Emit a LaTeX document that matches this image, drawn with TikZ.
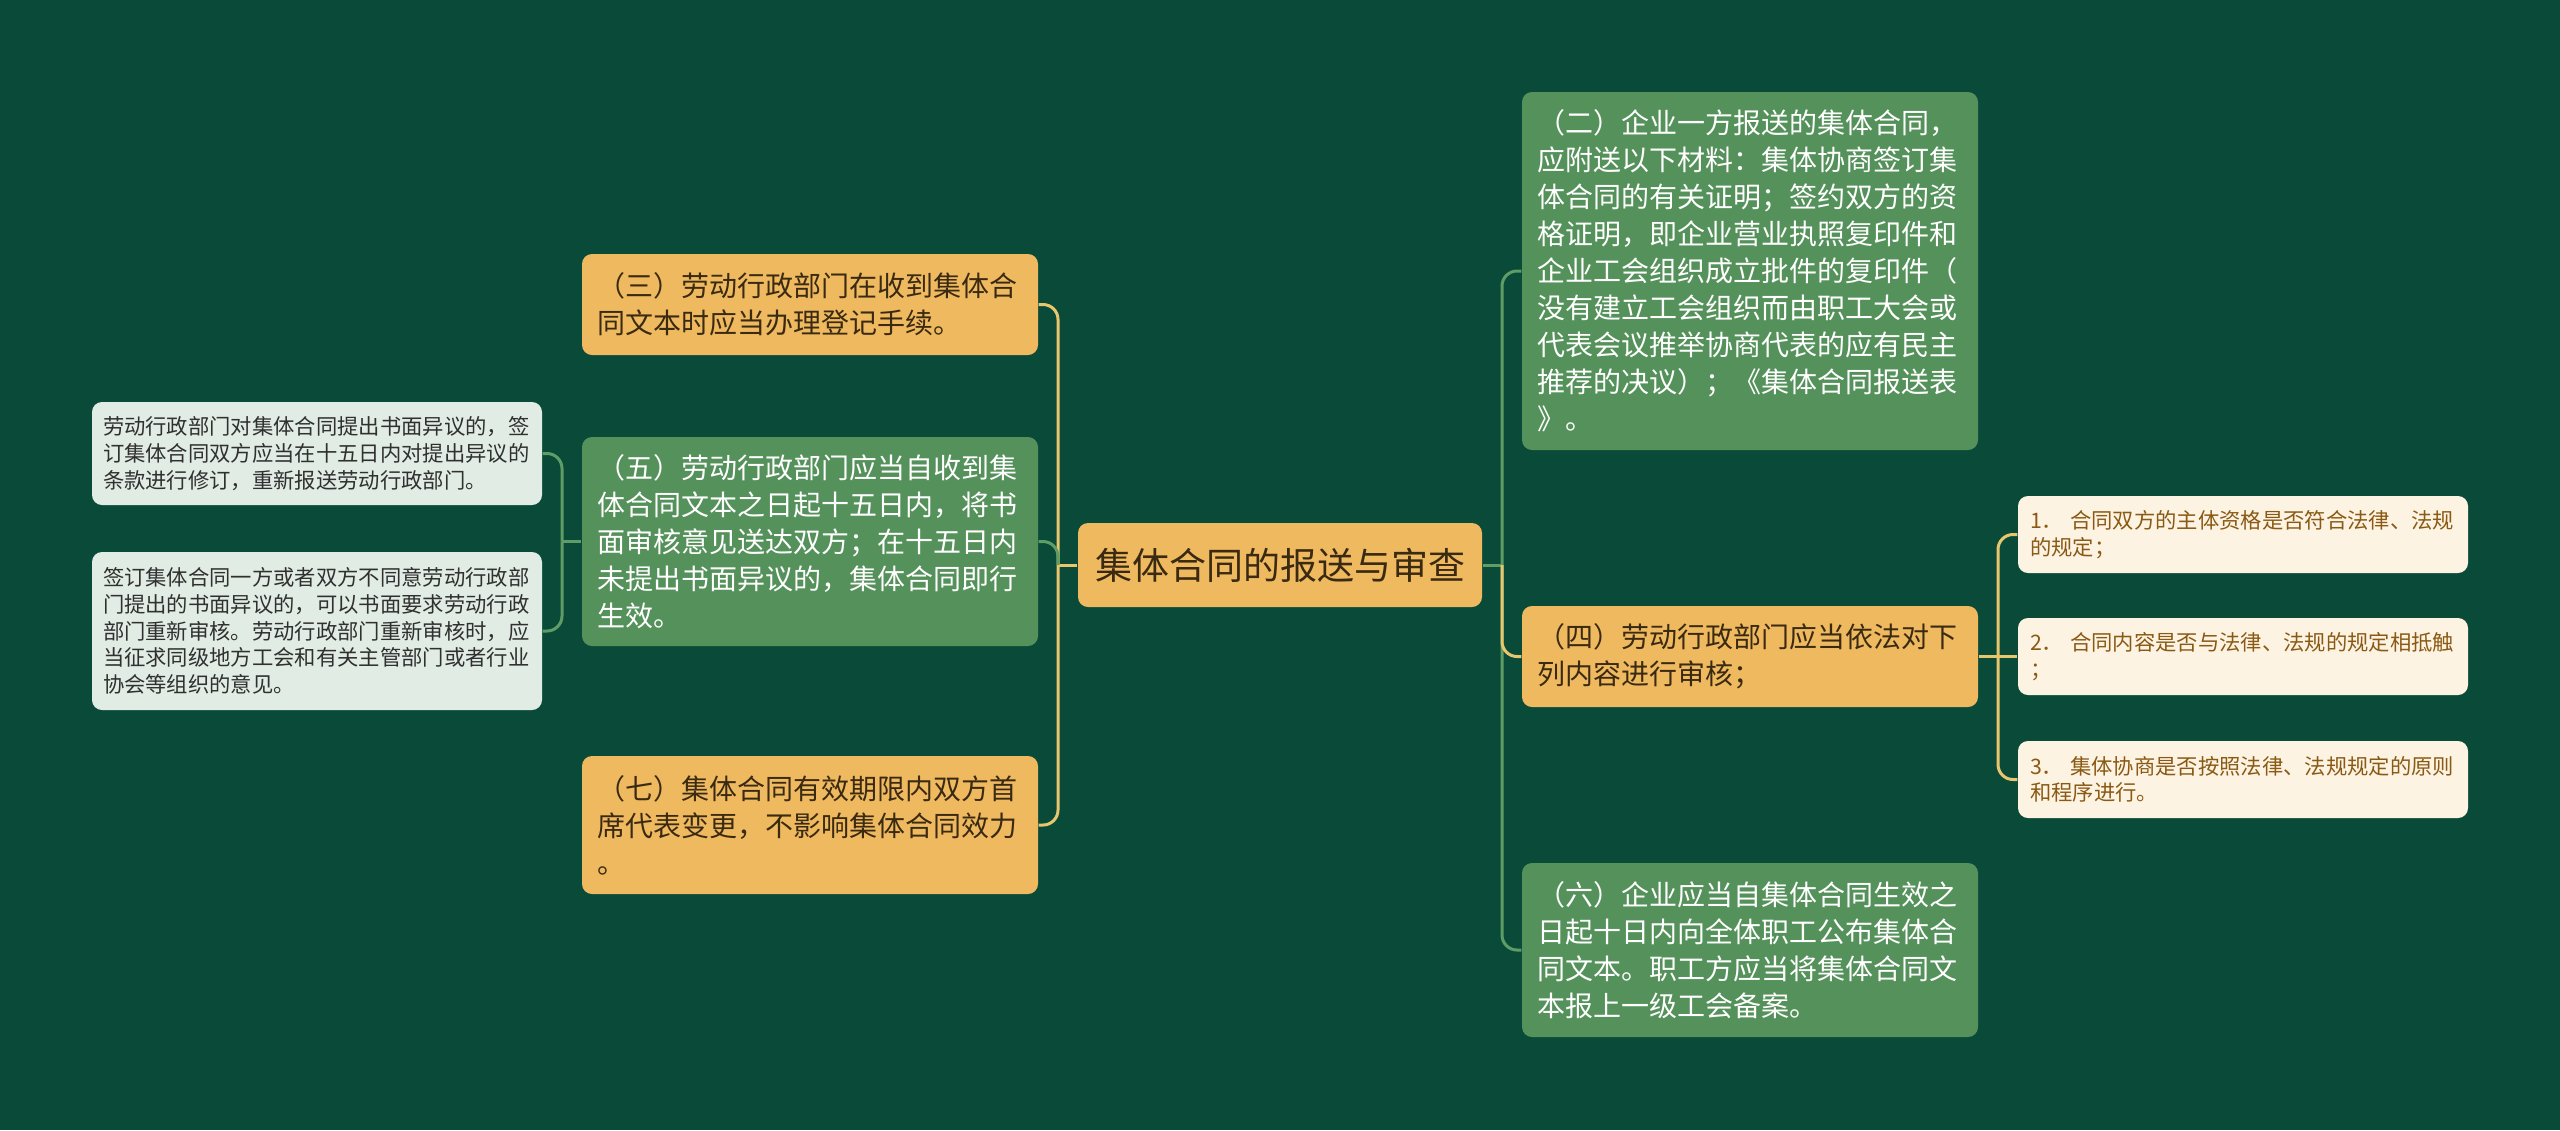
\documentclass[tikz,border=0pt]{standalone}
\usepackage{fontspec}
\newfontfamily\cjk{Noto Sans CJK SC}
\newlength\upx
\setlength\upx{0.3pt}
\definecolor{bgc}{HTML}{0A4A38}
\definecolor{orangec}{HTML}{EFB95F}
\definecolor{greenc}{HTML}{55925B}
\definecolor{lightc}{HTML}{E1ECE4}
\definecolor{creamc}{HTML}{FDF3E3}
\definecolor{otext}{HTML}{3A2A12}
\definecolor{ftext}{HTML}{303030}
\definecolor{stext}{HTML}{8A5A14}
\definecolor{ylinec}{HTML}{E8C66E}
\definecolor{glinec}{HTML}{5E9E66}
\begin{document}
\begin{tikzpicture}[x=0.3pt,y=-0.3pt,
  mainbox/.style={rounded corners=3pt, inner xsep=15\upx, inner ysep=0pt, align=left,
    text width=426\upx, font=\cjk\fontsize{8.4pt}{11.1pt}\selectfont},
  obox/.style={mainbox, fill=orangec, text=otext},
  gbox/.style={mainbox, fill=greenc, text=white},
  rootbox/.style={rounded corners=3pt, fill=orangec, text=otext, align=center,
    minimum width=404\upx, minimum height=84\upx, inner sep=0pt,
    font=\cjk\fontsize{11.1pt}{13pt}\selectfont},
  fbox/.style={rounded corners=3pt, fill=lightc, text=ftext, inner xsep=11\upx, inner ysep=0pt,
    align=left, text width=428\upx, font=\cjk\fontsize{6.4pt}{8pt}\selectfont},
  sbox/.style={rounded corners=3pt, fill=creamc, text=stext, inner xsep=12\upx, inner ysep=0pt,
    align=left, text width=426\upx, minimum height=77\upx, font=\cjk\fontsize{6.4pt}{8pt}\selectfont},
  ylink/.style={draw=ylinec, line width=0.9pt, rounded corners=4.5pt},
  glink/.style={draw=glinec, line width=0.9pt, rounded corners=4.5pt}]
\fill[bgc] (0,0) rectangle (2560,1130);
\useasboundingbox (0,0) rectangle (2560,1130);

% junction coordinates
\coordinate (tl) at (1058,565);
\coordinate (tr) at (1502,565);
\coordinate (tf) at (562,541.5);
\coordinate (ts) at (1998,656.5);

% nodes
\node[rootbox] (root) at (1280,565) {集体合同的报送与审查};

\node[obox, minimum height=101\upx] (c3) at (810,304.5) {（三）劳动行政部门在收到集体合\\同文本时应当办理登记手续。};
\node[gbox, minimum height=209\upx] (c5) at (810,541.5) {（五）劳动行政部门应当自收到集\\体合同文本之日起十五日内，将书\\面审核意见送达双方；在十五日内\\未提出书面异议的，集体合同即行\\生效。};
\node[obox, minimum height=138\upx] (c7) at (810,825) {（七）集体合同有效期限内双方首\\席代表变更，不影响集体合同效力\\。};

\node[fbox, minimum height=103\upx] (f1) at (317,453.5) {劳动行政部门对集体合同提出书面异议的，签\\订集体合同双方应当在十五日内对提出异议的\\条款进行修订，重新报送劳动行政部门。};
\node[fbox, minimum height=158\upx] (f2) at (317,631) {签订集体合同一方或者双方不同意劳动行政部\\门提出的书面异议的，可以书面要求劳动行政\\部门重新审核。劳动行政部门重新审核时，应\\当征求同级地方工会和有关主管部门或者行业\\协会等组织的意见。};

\node[gbox, minimum height=358\upx] (c2) at (1750,271) {（二）企业一方报送的集体合同，\\应附送以下材料：集体协商签订集\\体合同的有关证明；签约双方的资\\格证明，即企业营业执照复印件和\\企业工会组织成立批件的复印件（\\没有建立工会组织而由职工大会或\\代表会议推举协商代表的应有民主\\推荐的决议）；《集体合同报送表\\》。};
\node[obox, minimum height=101\upx] (c4) at (1750,656.5) {（四）劳动行政部门应当依法对下\\列内容进行审核；};
\node[gbox, minimum height=174\upx] (c6) at (1750,950) {（六）企业应当自集体合同生效之\\日起十日内向全体职工公布集体合\\同文本。职工方应当将集体合同文\\本报上一级工会备案。};

\node[sbox] (s1) at (2243,534.5) {1．\ 合同双方的主体资格是否符合法律、法规\\的规定；};
\node[sbox] (s2) at (2243,656.5) {2．\ 合同内容是否与法律、法规的规定相抵触\\；};
\node[sbox] (s3) at (2243,779.5) {3．\ 集体协商是否按照法律、法规规定的原则\\和程序进行。};

% connectors
\draw[ylink] (root.west) -- (tl);
\draw[ylink] (c3.east) -| (tl);
\draw[ylink] (c7.east) -| (tl);
\draw[glink] (c5.east) -| (tl);

\draw[glink] (root.east) -- (tr);
\draw[glink] (c2.west) -| (tr);
\draw[glink] (c6.west) -| (tr);
\draw[ylink] (c4.west) -| (tr);

\draw[glink] (c5.west) -- (tf);
\draw[glink] (f1.east) -| (tf);
\draw[glink] (f2.east) -| (tf);

\draw[ylink] (c4.east) -- (ts);
\draw[ylink] (s1.west) -| (ts);
\draw[ylink] (s2.west) -- (ts);
\draw[ylink] (s3.west) -| (ts);
\end{tikzpicture}
\end{document}
